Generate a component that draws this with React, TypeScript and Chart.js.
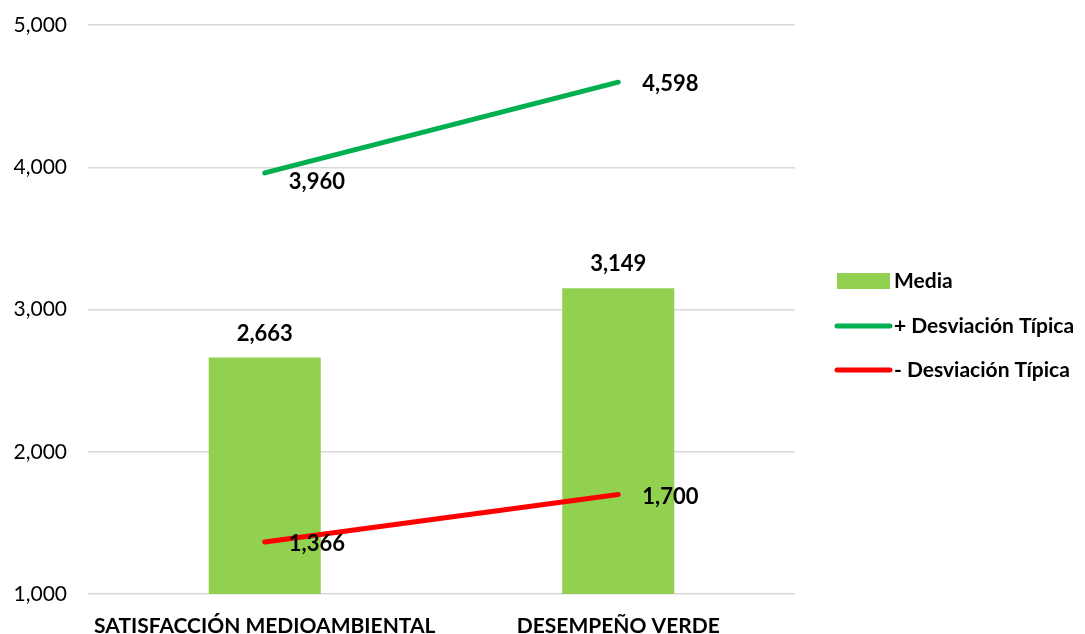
import React, { useEffect, useRef } from "react";
import { Chart, registerables } from "chart.js";

Chart.register(...registerables);

const categories = ["SATISFACCIÓN MEDIOAMBIENTAL", "DESEMPEÑO VERDE"];
const mediaValues = [2.663, 3.149];
const plusSdValues = [3.96, 4.598];
const minusSdValues = [1.366, 1.7];
const yTicks = [1, 2, 3, 4, 5];
const seriesNames = ["Media", "+ Desviación Típica", "- Desviación Típica"];

const FONT = "Lato, 'Liberation Sans', sans-serif";
const fmt = (v: number) => v.toFixed(3).replace(".", ",");

const labelsPlugin = {
  id: "valueLabels",
  afterDatasetsDraw(chart: any) {
    const ctx = chart.ctx;
    ctx.save();
    ctx.fillStyle = "#000";
    ctx.font = `bold 22px ${FONT}`;
    chart.data.datasets.forEach((ds: any, di: number) => {
      const meta = chart.getDatasetMeta(di);
      meta.data.forEach((el: any, i: number) => {
        const v = ds.data[i];
        const text = fmt(v);
        if (ds.type === "bar") {
          ctx.textAlign = "center";
          ctx.textBaseline = "middle";
          ctx.fillText(text, el.x, el.y - 24);
        } else {
          ctx.textAlign = "left";
          ctx.textBaseline = "middle";
          const dy = di === 0 && i === 0 ? 9 : 2;
          ctx.fillText(text, el.x + 24, el.y + dy);
        }
      });
    });
    ctx.restore();
  },
};

const legendPlugin = {
  id: "customLegend",
  afterDraw(chart: any) {
    const ctx = chart.ctx;
    ctx.save();
    const x0 = 837;
    const rows = [281, 326, 370];
    chart.data.datasets.forEach((ds: any) => {
      const y = rows[seriesNames.indexOf(ds.label)];
      if (ds.type === "bar") {
        ctx.fillStyle = ds.backgroundColor;
        ctx.fillRect(x0, y - 8, 53, 16);
      } else {
        ctx.strokeStyle = ds.borderColor;
        ctx.lineWidth = 5;
        ctx.lineCap = "round";
        ctx.beginPath();
        ctx.moveTo(x0, y);
        ctx.lineTo(x0 + 53, y);
        ctx.stroke();
      }
      ctx.fillStyle = "#000";
      ctx.font = `bold 21px ${FONT}`;
      ctx.textAlign = "left";
      ctx.textBaseline = "middle";
      ctx.fillText(ds.label, x0 + 57, y);
    });
    ctx.restore();
  },
};

export default function App() {
  const ref = useRef<HTMLCanvasElement>(null);
  useEffect(() => {
    document.body.style.margin = "0";
    const chart = new Chart(ref.current!, {
      type: "bar",
      data: {
        labels: categories,
        datasets: [
          {
            type: "line",
            label: seriesNames[1],
            data: plusSdValues,
            borderColor: "#00B050",
            backgroundColor: "#00B050",
            borderWidth: 5,
            borderCapStyle: "round",
            pointRadius: 0,
            order: 1,
          } as any,
          {
            type: "line",
            label: seriesNames[2],
            data: minusSdValues,
            borderColor: "#FF0000",
            backgroundColor: "#FF0000",
            borderWidth: 5,
            borderCapStyle: "round",
            pointRadius: 0,
            order: 1,
          } as any,
          {
            type: "bar",
            label: seriesNames[0],
            data: mediaValues,
            backgroundColor: "#92D050",
            categoryPercentage: 0.317,
            barPercentage: 1,
            order: 3,
          } as any,
        ],
      },
      options: {
        animation: false,
        responsive: false,
        maintainAspectRatio: false,
        layout: { padding: { left: 0, right: 290, top: 25, bottom: 0 } },
        plugins: { legend: { display: false }, tooltip: { enabled: false } },
        scales: {
          x: {
            grid: { display: false, drawTicks: false },
            border: { display: false },
            ticks: {
              color: "#000",
              font: { family: FONT, size: 21, weight: "bold" },
              padding: 20,
              maxRotation: 0,
              autoSkip: false,
            },
            afterFit(scale: any) {
              scale.height = 40;
              scale.paddingLeft = 0;
              scale.paddingRight = 0;
            },
          },
          y: {
            min: 1,
            max: 5,
            afterBuildTicks(scale: any) {
              scale.ticks = yTicks.map((v) => ({ value: v }));
            },
            grid: { color: "#D9D9D9", lineWidth: 1.5, drawTicks: false },
            border: { display: false },
            ticks: {
              color: "#000",
              font: { family: FONT, size: 21 },
              padding: 21,
              callback: (v: any) => fmt(Number(v)),
            },
            afterFit(scale: any) {
              scale.width = 88;
              scale.paddingTop = 0;
              scale.paddingBottom = 0;
            },
          },
        },
      },
      plugins: [labelsPlugin, legendPlugin],
    });
    return () => chart.destroy();
  }, []);
  return (
    <div style={{ width: 1085, height: 634, background: "#fff" }}>
      <canvas ref={ref} width={1085} height={634} style={{ display: "block" }} />
    </div>
  );
}
